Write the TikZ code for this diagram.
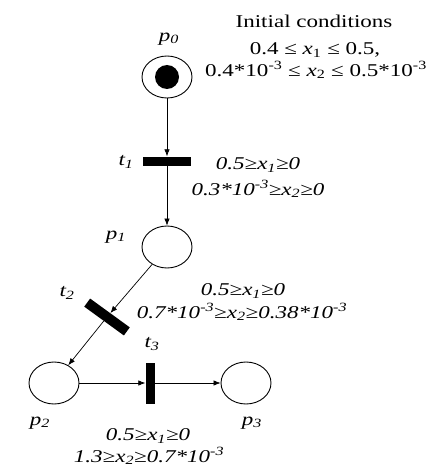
\documentclass[tikz,border=0pt]{standalone}
\usepackage{fontspec}
\setmainfont[FakeStretch=1.28]{Liberation Serif}
\usetikzlibrary{arrows.meta,shapes.geometric}
\begin{document}
\begin{tikzpicture}[x=1pt,y=-1pt,
  place/.style={draw,line width=0.9pt,ellipse,minimum width=50pt,minimum height=42pt,inner sep=0pt},
  trans/.style={fill=black,draw=none,rectangle,inner sep=0pt},
  token/.style={circle,fill=black,minimum size=24pt,inner sep=0pt},
  arc/.style={line width=0.7pt,-{Latex[length=7pt,width=5.5pt]}},
  lbl/.style={font=\fontsize{18}{20}\selectfont\itshape,inner sep=0pt},
  cond/.style={font=\fontsize{18}{20}\selectfont\itshape,inner sep=0pt},
  init/.style={font=\fontsize{18}{20}\selectfont,inner sep=0pt}]
\fill[white] (0,0) rectangle (430,468);
\useasboundingbox (0,0) rectangle (430,468);
% places and transitions
\node[place] (p0) at (167,77) {};
\node[token] (tok) at (p0) {};
\node[trans,minimum width=48pt,minimum height=9pt] (t1) at (167,161) {};
\node[place] (p1) at (167,247) {};
\node[trans,minimum width=49pt,minimum height=10pt,rotate=-36] (t2) at (107,317) {};
\node[place] (p2) at (54,383) {};
\node[trans,minimum width=9pt,minimum height=41pt] (t3) at (150,383) {};
\node[place] (p3) at (246,383) {};
% arcs
\draw[arc] (p0) -- (t1);
\draw[arc] (t1) -- (p1);
\draw[arc] (p1) -- (t2);
\draw[arc] (t2) -- (p2);
\draw[arc] (p2) -- (t3);
\draw[arc] (t3) -- (p3);
% labels
\node[lbl] (lp0) at (169,39) {p\textsubscript{0}};
\node[lbl] (lt1) at (126,162) {t\textsubscript{1}};
\node[lbl] (lp1) at (116,237) {p\textsubscript{1}};
\node[lbl] (lt2) at (67,293) {t\textsubscript{2}};
\node[lbl] (lt3) at (152,344) {t\textsubscript{3}};
\node[lbl] (lp2) at (40,423) {p\textsubscript{2}};
\node[lbl] (lp3) at (252,423) {p\textsubscript{3}};
% conditions
\node[init] (ic1) at (314,21) {Initial conditions};
\node[init] (ic2) at (315,50) {0.4 ≤ \textit{x}\textsubscript{1} ≤ 0.5,};
\node[init] (ic3) at (316,70) {0.4*10\textsuperscript{-3} ≤ \textit{x}\textsubscript{2} ≤ 0.5*10\textsuperscript{-3}};
\node[cond] (c1a) at (258,165) {0.5≥x\textsubscript{1}≥0};
\node[cond] (c1b) at (258,189) {0.3*10\textsuperscript{-3}≥x\textsubscript{2}≥0};
\node[cond] (c2a) at (243,291) {0.5≥x\textsubscript{1}≥0};
\node[cond] (c2b) at (242,312) {0.7*10\textsuperscript{-3}≥x\textsubscript{2}≥0.38*10\textsuperscript{-3}};
\node[cond] (c3a) at (148,436) {0.5≥x\textsubscript{1}≥0};
\node[cond] (c3b) at (149,456) {1.3≥x\textsubscript{2}≥0.7*10\textsuperscript{-3}};
\end{tikzpicture}
\end{document}
